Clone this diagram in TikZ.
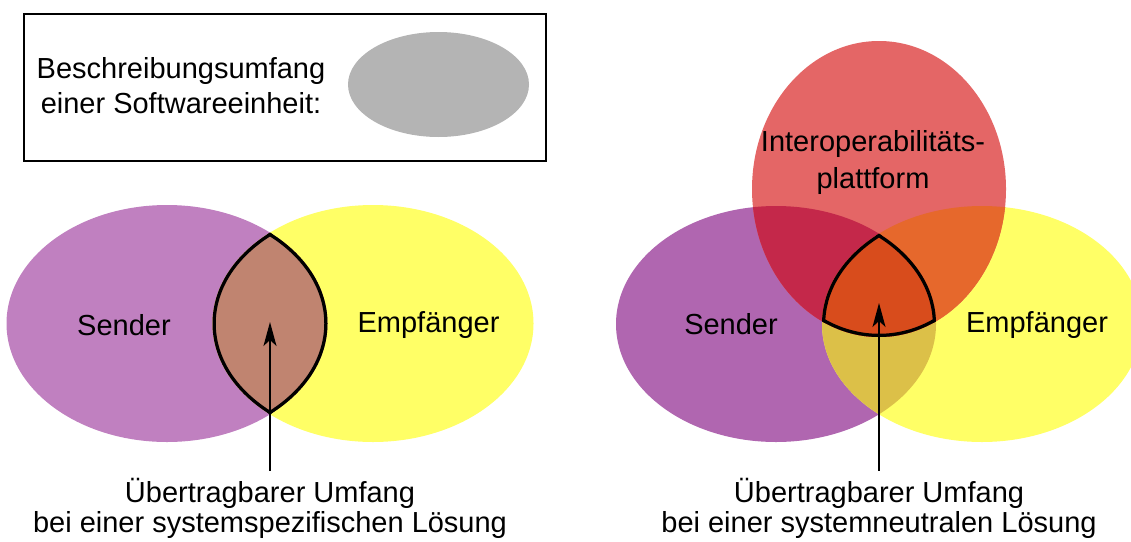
\documentclass[tikz,border=0pt]{standalone}
\usepackage{fontspec}
\setmainfont{Liberation Sans}
\usetikzlibrary{arrows.meta}

% fills of the single sets
\definecolor{legendgray}{HTML}{B4B4B4}
\definecolor{senderA}{HTML}{C080C0}
\definecolor{senderB}{HTML}{B066B0}
\definecolor{receiver}{HTML}{FFFF66}
\definecolor{platform}{HTML}{E46666}
% fills of the overlaps
\definecolor{lensA}{HTML}{C08470}
\definecolor{sendRecv}{HTML}{DCC048}
\definecolor{sendPlat}{HTML}{C4284A}
\definecolor{recvPlat}{HTML}{E6682C}
\definecolor{allThree}{HTML}{D84C1C}

% set outlines (1pt = 1px, y grows downwards)
\def\senderLeft{(167,323.5) ellipse [x radius=160.5pt, y radius=118.5pt]}
\def\receiverLeft{(373,323.5) ellipse [x radius=160.5pt, y radius=118.5pt]}
\def\senderRight{(776,324) ellipse [x radius=160pt, y radius=118pt]}
\def\receiverRight{(982,324) ellipse [x radius=160pt, y radius=118pt]}
\def\platformRight{(879,189) ellipse [x radius=127pt, y radius=148pt]}

\begin{document}
\begin{tikzpicture}[x=1pt, y=-1pt,
  lbl/.style={font=\fontsize{29}{35}\selectfont, inner sep=0pt, anchor=base},
  caption/.style={lbl, outer ysep=7pt},
  rim/.style={line width=6.5pt, line join=round},
  pointer/.style={line width=1.5pt, -{Stealth[length=24pt, width=13pt, inset=6pt]}}]
\useasboundingbox (0,0) rectangle (1131,541);

% ---------- legend ----------
\draw[line width=1.5pt] (24,14) rectangle (546,161);
\fill[legendgray] (438.5,84.5) ellipse [x radius=90.5pt, y radius=52.5pt];
\node[lbl] (leg1) at (181,78) {Beschreibungsumfang};
\node[lbl] (leg2) at (181,113) {einer Softwareeinheit:};

% ---------- system-specific solution ----------
\fill[senderA] \senderLeft;
\fill[receiver] \receiverLeft;
\begin{scope}
  \clip \senderLeft;
  \fill[lensA] \receiverLeft;
\end{scope}
% outline of the overlap: strokes kept on the inner side only
\begin{scope}
  \clip \senderLeft;
  \clip \receiverLeft;
  \draw[rim] \receiverLeft;
  \draw[rim] \senderLeft;
\end{scope}
\node[lbl] (sendL) at (124,335) {Sender};
\node[lbl] (recvL) at (428.5,332) {Empfänger};

\coordinate (tipL) at (270,322);
\node[caption] (capL1) at (270,502) {Übertragbarer Umfang};
\node[lbl] (capL2) at (270,532) {bei einer systemspezifischen Lösung};
\draw[pointer] (capL1.north) -- (tipL);

% ---------- system-neutral solution ----------
\fill[senderB] \senderRight;
\fill[receiver] \receiverRight;
\fill[platform] \platformRight;
\begin{scope}
  \clip \senderRight;
  \fill[sendRecv] \receiverRight;
\end{scope}
\begin{scope}
  \clip \senderRight;
  \fill[sendPlat] \platformRight;
\end{scope}
\begin{scope}
  \clip \receiverRight;
  \fill[recvPlat] \platformRight;
\end{scope}
% common part of all three sets, filled and outlined from the inside
\begin{scope}
  \clip \senderRight;
  \clip \receiverRight;
  \clip \platformRight;
  \fill[allThree] \platformRight;
  \draw[rim] \receiverRight;
  \draw[rim] \senderRight;
  \draw[rim] \platformRight;
\end{scope}
\node[lbl] (plat1) at (873,151) {Interoperabilitäts-};
\node[lbl] (plat2) at (873,188) {plattform};
\node[lbl] (sendR) at (731,334) {Sender};
\node[lbl] (recvR) at (1037,332) {Empfänger};

\coordinate (tipR) at (879,303);
\node[caption] (capR1) at (879,502) {Übertragbarer Umfang};
\node[lbl] (capR2) at (879,532) {bei einer systemneutralen Lösung};
\draw[pointer] (capR1.north) -- (tipR);
\end{tikzpicture}
\end{document}
